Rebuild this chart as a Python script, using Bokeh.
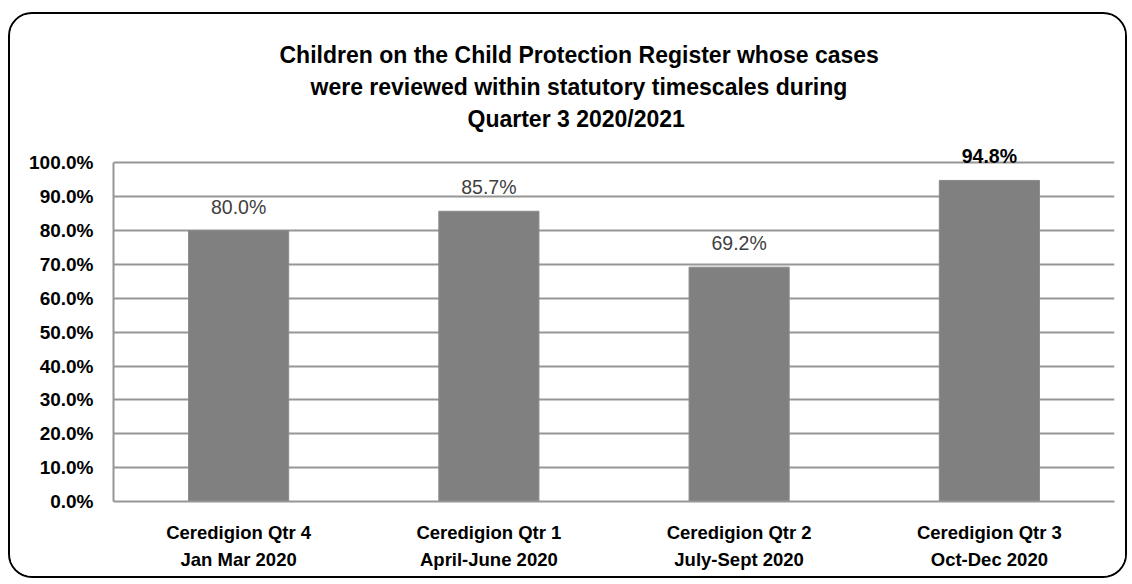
from bokeh.plotting import figure
from bokeh.models import (ColumnDataSource, NumeralTickFormatter, Title, FixedTicker,
                          Range1d, LabelSet)
from bokeh.core.properties import value
from bokeh.embed import file_html
from bokeh.resources import INLINE

# ---- data ----
categories = [
    "Ceredigion Qtr 4\nJan Mar 2020",
    "Ceredigion Qtr 1\nApril-June 2020",
    "Ceredigion Qtr 2\nJuly-Sept 2020",
    "Ceredigion Qtr 3\nOct-Dec 2020",
]
values = [0.800, 0.857, 0.692, 0.948]
value_labels = ["80.0%", "85.7%", "69.2%", "94.8%"]
y_ticks = [0.0, 0.1, 0.2, 0.3, 0.4, 0.5, 0.6, 0.7, 0.8, 0.9, 1.0]
title_lines = [
    "Children on the Child Protection Register whose cases",
    "were reviewed within statutory timescales during",
    "Quarter 3  2020/2021",
]

# ---- styles / layout (not data) ----
FONT = "Liberation Sans"
label_styles = ["normal", "normal", "normal", "bold"]
label_colors = ["#404040", "#404040", "#404040", "#000000"]
GRID = "#969696"
title_offsets = [166, 197, 354]      # px from frame left (lines centred near x=578)
title_standoffs = [22, -14, 22]

src = ColumnDataSource(dict(cat=categories, val=values, lab=value_labels,
                            sty=label_styles, col=label_colors))

p = figure(x_range=categories, y_range=Range1d(0, 1.06),
           width=1119, height=566, output_backend="svg", toolbar_location=None,
           min_border_left=103, min_border_right=15, min_border_top=128,
           min_border_bottom=79, title=None)
p.styles = {"border": "2px solid black", "border-radius": "24px",
            "overflow": "hidden", "margin": "12px 0px 0px 8px"}
p.background_fill_color = "white"
p.border_fill_color = "white"
p.outline_line_color = None

# titles: the later-added one sits farther from the plot frame
for line, off, so in reversed(list(zip(title_lines, title_offsets, title_standoffs))):
    t = Title(text=line, align="left", offset=off, text_font=FONT,
              text_font_size="23px", text_font_style="bold", text_color="black",
              standoff=so)
    p.add_layout(t, "above")

p.vbar(x="cat", top="val", width=0.4, source=src, fill_color="#808080",
       line_color="#8a8a8a", line_width=1)

labels = LabelSet(x="cat", y="val", text="lab", source=src, y_offset=17,
                  text_align="center", text_baseline="alphabetic",
                  text_font=value(FONT), text_font_size=value("19.5px"),
                  text_font_style="sty", text_color="col")
p.add_layout(labels)

# y axis
p.yaxis.ticker = FixedTicker(ticks=y_ticks)
p.yaxis.bounds = (0, 1)
p.yaxis.formatter = NumeralTickFormatter(format="0.0%")
p.yaxis.major_label_text_font = FONT
p.yaxis.major_label_text_font_size = "19px"
p.yaxis.major_label_text_font_style = "bold"
p.yaxis.major_label_text_color = "black"
p.yaxis.major_tick_line_color = None
p.yaxis.minor_tick_line_color = None
p.yaxis.axis_line_color = GRID
p.yaxis.axis_line_width = 2
p.yaxis.major_label_standoff = 14

# x axis
p.xaxis.major_label_text_font = FONT
p.xaxis.major_label_text_font_size = "18.5px"
p.xaxis.major_label_text_font_style = "bold"
p.xaxis.major_label_text_color = "black"
p.xaxis.major_label_text_line_height = 1.33
p.xaxis.major_tick_line_color = None
p.xaxis.axis_line_color = GRID
p.xaxis.axis_line_width = 2
p.xaxis.major_label_standoff = 14

p.xgrid.grid_line_color = None
p.ygrid.grid_line_color = GRID
p.ygrid.grid_line_width = 2

open("out.html", "w").write(file_html(p, INLINE))
